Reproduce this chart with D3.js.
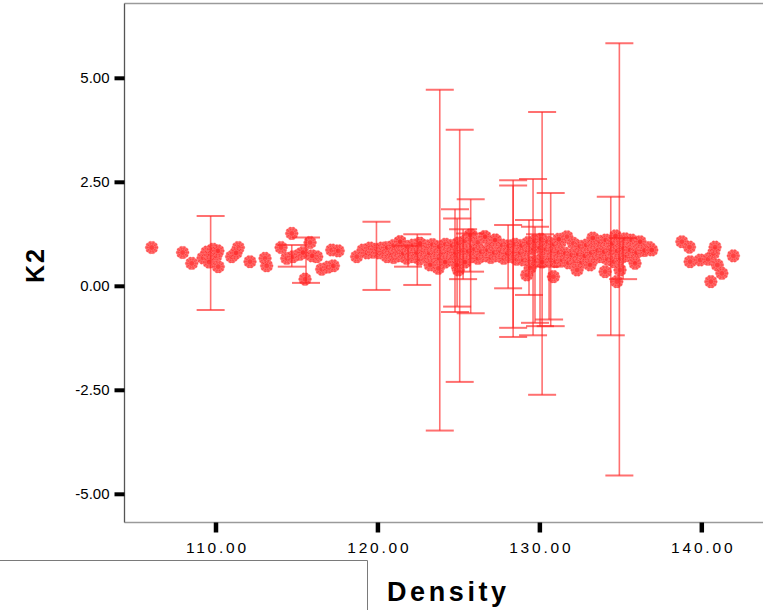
<!DOCTYPE html>
<html>
<head>
<meta charset="utf-8">
<script src="https://cdn.jsdelivr.net/npm/d3@7"></script>
<style>
  html, body { margin: 0; padding: 0; background: #fff; }
  svg { display: block; }
</style>
</head>
<body>
<svg id="chart" width="763" height="610"></svg>
<script>
// ---------- DATA ----------
const xTicks = [110, 120, 130, 140];
const xTickLabels = ["110.00", "120.00", "130.00", "140.00"];
const yTicks = [5, 2.5, 0, -2.5, -5];
const yTickLabels = ["5.00", "2.50", "0.00", "-2.50", "-5.00"];
const xTitle = "Density";
const yTitle = "K2";

// Density of each case
const densityLeft = [106.06, 107.97, 108.53, 109.23, 109.47, 109.66, 109.85, 110.03, 109.60, 110.15, 110.17,
  111.00, 111.41, 111.27, 112.13, 113.06, 113.16, 114.05, 114.71, 114.40, 114.79, 115.22, 115.40, 115.84,
  115.53, 116.25, 115.96, 116.56, 116.95, 117.28, 117.18, 117.58, 118.72, 119.11, 119.36, 119.54, 119.73,
  119.91, 120.10, 120.28, 120.47];
const k2Left = [0.92, 0.80, 0.54, 0.67, 0.81, 0.74, 0.88, 0.72, 0.57, 0.84, 0.46,
  0.70, 0.92, 0.79, 0.58, 0.66, 0.48, 0.92, 1.26, 0.66, 0.70, 0.76, 0.80, 1.04,
  0.16, 0.70, 0.72, 0.40, 0.45, 0.48, 0.86, 0.84, 0.70, 0.86, 0.79, 0.91, 0.81,
  0.88, 0.79, 0.91, 0.84];

const densityBandUpper = [120.6, 121.0, 121.4, 121.8, 122.2, 122.6, 123.0, 123.4, 123.8, 124.2, 124.6, 125.0,
  125.4, 125.8, 126.2, 126.6, 127.0, 127.3, 127.7, 128.1, 128.5, 128.9, 129.3, 129.7, 130.1, 130.5, 130.9,
  131.3, 131.7, 132.1, 132.5, 132.9, 133.3, 133.7, 134.1, 134.5, 134.9, 135.3, 135.7, 136.1, 136.5];
const k2BandUpper = [0.92, 0.97, 1.06, 0.95, 0.98, 1.02, 0.96, 0.99, 0.94, 1.00, 0.97, 1.03,
  1.08, 1.22, 1.05, 1.18, 1.02, 1.10, 0.98, 0.96, 1.00, 0.97, 1.04, 1.08, 1.12, 1.06, 1.00,
  1.05, 1.18, 1.02, 0.95, 0.98, 1.04, 1.07, 1.10, 1.02, 1.12, 1.13, 1.10, 1.02, 0.85];

const densityBandMid = [120.4, 120.8, 121.2, 121.6, 122.0, 122.4, 122.8, 123.2, 123.6, 124.0, 124.4, 124.8,
  125.2, 125.6, 126.0, 126.4, 126.8, 127.2, 127.6, 128.0, 128.4, 128.8, 129.2, 129.6, 130.0, 130.4, 130.8,
  131.2, 131.6, 132.0, 132.4, 132.8, 133.2, 133.6, 134.0, 134.4, 134.8, 135.2, 135.6, 136.0, 136.4, 136.8];
const k2BandMid = [0.82, 0.80, 0.85, 0.78, 0.83, 0.80, 0.86, 0.79, 0.84, 0.81, 0.86, 0.80,
  0.85, 0.83, 0.88, 0.82, 0.86, 0.80, 0.84, 0.78, 0.82, 0.80, 0.86, 0.90, 0.92, 0.88, 0.84,
  0.80, 0.78, 0.74, 0.76, 0.72, 0.80, 0.85, 0.82, 0.88, 0.84, 0.90, 0.86, 0.80, 0.86, 0.92];

const densityBandLower = [120.6, 121.0, 121.4, 121.8, 122.2, 122.6, 123.0, 123.4, 123.8, 124.2, 124.6, 125.0,
  125.4, 125.8, 126.2, 126.6, 127.0, 127.4, 127.8, 128.2, 128.6, 129.0, 129.4, 129.8, 130.2, 130.6, 131.0,
  131.4, 131.8, 132.2, 132.6, 133.0, 133.4, 133.8, 134.2, 134.6, 135.0, 135.4, 135.8];
const k2BandLower = [0.70, 0.68, 0.72, 0.66, 0.70, 0.64, 0.70, 0.62, 0.66, 0.60, 0.68, 0.64,
  0.58, 0.70, 0.66, 0.72, 0.68, 0.72, 0.66, 0.70, 0.64, 0.62, 0.58, 0.60, 0.66, 0.62, 0.58,
  0.62, 0.55, 0.60, 0.56, 0.62, 0.66, 0.70, 0.64, 0.58, 0.66, 0.72, 0.68];

const densityOutliers = [123.76, 125.00, 124.90, 124.18, 129.22, 130.87, 134.06, 134.78, 134.98, 135.91,
  136.94, 136.22, 129.43, 130.17, 132.33, 133.13, 123.25, 125.41, 121.40, 122.63, 125.72, 126.65, 127.26,
  131.20, 133.30, 134.70];
const k2Outliers = [0.42, 0.38, 0.50, 0.57, 0.26, 0.22, 0.34, 0.10, 0.38, 0.54,
  0.86, 1.06, 0.43, 0.57, 0.38, 0.50, 0.50, 0.57, 1.06, 1.02, 1.22, 1.18, 1.10,
  1.12, 1.15, 1.20];

const densityRight = [138.80, 139.27, 139.31, 139.93, 140.42, 140.75, 140.85, 140.99, 141.27, 140.59, 141.98];
const k2Right = [1.06, 0.93, 0.58, 0.62, 0.64, 0.78, 0.93, 0.50, 0.30, 0.10, 0.72];

// Error bars: density, lower, upper
const barDensity = [109.70, 114.71, 115.59, 119.94, 122.46, 121.89, 123.85, 124.79, 124.92, 125.08, 125.76,
  125.29, 125.72, 128.07, 128.38, 128.38, 129.61, 130.17, 130.70, 129.36, 129.73, 130.04, 130.60, 134.41,
  134.94, 135.17];
const barLower = [-0.58, 0.46, 0.07, -0.10, 0.02, 0.46, -3.48, -0.63, -0.50, -2.31, -0.66,
  0.16, 0.34, -0.06, -1.23, -1.01, -1.19, -2.62, -0.97, -0.22, -0.89, -0.97, -0.81, -1.19,
  -4.56, 0.16];
const barUpper = [1.68, 0.98, 1.16, 1.54, 1.24, 0.96, 4.71, 1.84, 1.62, 3.75, 2.08,
  1.36, 1.26, 1.46, 2.54, 2.41, 2.57, 4.18, 2.23, 1.58, 1.42, 1.24, 0.46, 2.14,
  5.83, 1.15];

// ---------- BUILD ----------
const points = [];
function addPts(xs, ys) { xs.forEach((d, i) => points.push({ x: d, y: ys[i] })); }
addPts(densityLeft, k2Left);
addPts(densityBandLower, k2BandLower);
addPts(densityBandMid, k2BandMid);
addPts(densityBandUpper, k2BandUpper);
addPts(densityOutliers, k2Outliers);
addPts(densityRight, k2Right);
const bars = barDensity.map((d, i) => ({ x: d, lo: barLower[i], hi: barUpper[i] }));

const svg = d3.select("#chart");
const frame = { left: 124.5, top: 3.5, right: 770, bottom: 522.5 };

const x = d3.scaleLinear().domain([110, 140]).range([215.5, 701.3]);
const y = d3.scaleLinear().domain([-5, 5]).range([493.8, 77.8]);

// frame
svg.append("line").attr("x1", frame.left).attr("x2", frame.right).attr("y1", frame.top).attr("y2", frame.top)
  .attr("stroke", "#9a9a9a").attr("stroke-width", 1.5);
svg.append("line").attr("x1", frame.left).attr("x2", frame.right).attr("y1", frame.bottom).attr("y2", frame.bottom)
  .attr("stroke", "#9a9a9a").attr("stroke-width", 1.5);
svg.append("line").attr("x1", frame.left).attr("x2", frame.left).attr("y1", frame.top).attr("y2", frame.bottom)
  .attr("stroke", "#555").attr("stroke-width", 1.3);

// lower-left box
svg.append("path").attr("d", "M0,560.5 H367.5 V612").attr("fill", "none").attr("stroke", "#7a7a7a").attr("stroke-width", 1);

// axes
const yAxis = d3.axisLeft(y).tickValues(yTicks).tickSize(10).tickPadding(5)
  .tickFormat((d, i) => yTickLabels[i]);
const gy = svg.append("g").attr("transform", `translate(${frame.left},0)`).call(yAxis);
gy.select(".domain").remove();
gy.selectAll(".tick line").attr("stroke", "#000").attr("stroke-width", 4);
gy.selectAll(".tick text").attr("font-family", "Liberation Sans, Arial, sans-serif")
  .attr("font-size", 15).attr("fill", "#000");

const xAxis = d3.axisBottom(x).tickValues(xTicks).tickSize(10).tickPadding(9)
  .tickFormat((d, i) => xTickLabels[i]);
const gx = svg.append("g").attr("transform", `translate(0,${frame.bottom})`).call(xAxis);
gx.select(".domain").remove();
gx.selectAll(".tick line").attr("stroke", "#000").attr("stroke-width", 4.5);
gx.selectAll(".tick text").attr("font-family", "Liberation Sans, Arial, sans-serif")
  .attr("font-size", 15.5).attr("fill", "#000").attr("letter-spacing", "2.8px").attr("dx", "1.4px");

// titles
svg.append("text").attr("x", 387).attr("y", 601).text(xTitle)
  .attr("font-family", "Liberation Sans, Arial, sans-serif").attr("font-weight", "bold")
  .attr("font-size", 27).attr("letter-spacing", "3.6px").attr("fill", "#000");
svg.append("text").attr("transform", "translate(44,265) rotate(-90)").attr("text-anchor", "middle")
  .text(yTitle).attr("font-family", "Liberation Sans, Arial, sans-serif").attr("font-weight", "bold")
  .attr("font-size", 25).attr("letter-spacing", "2px").attr("fill", "#000");

// clip
svg.append("clipPath").attr("id", "plotclip").append("rect")
  .attr("x", frame.left + 1).attr("y", frame.top + 1)
  .attr("width", frame.right - frame.left).attr("height", frame.bottom - frame.top - 2);
const plot = svg.append("g").attr("clip-path", "url(#plotclip)");

// markers: scalloped burst
const burst = {
  draw(ctx, size) {
    const r = Math.sqrt(size / Math.PI);
    const n = 10;
    const rc = r * 0.78, rb = r * 0.3;
    ctx.moveTo(rc, 0);
    ctx.arc(0, 0, rc, 0, 2 * Math.PI);
    for (let i = 0; i < n; i++) {
      const a = (i / n) * 2 * Math.PI;
      const cx = Math.cos(a) * (r - rb), cy = Math.sin(a) * (r - rb);
      ctx.moveTo(cx + rb, cy);
      ctx.arc(cx, cy, rb, 0, 2 * Math.PI);
    }
  }
};
const sym = d3.symbol().type(burst).size(Math.PI * 6.5 * 6.5);

plot.append("g").selectAll("path").data(points).join("path")
  .attr("d", sym)
  .attr("transform", d => `translate(${x(d.x)},${y(d.y)})`)
  .attr("fill", "#ff3030").attr("fill-opacity", 0.92)
  .attr("stroke", "#ff8080").attr("stroke-opacity", 0.6).attr("stroke-width", 0.8);

// error bars
const capHalf = 14;
const gb = plot.append("g").attr("stroke", "#ff2424").attr("stroke-opacity", 0.65).attr("fill", "none");
const bg = gb.selectAll("g").data(bars).join("g");
bg.append("line").attr("x1", d => x(d.x)).attr("x2", d => x(d.x))
  .attr("y1", d => y(d.hi)).attr("y2", d => y(d.lo)).attr("stroke-width", 1.6);
bg.append("line").attr("x1", d => x(d.x) - capHalf).attr("x2", d => x(d.x) + capHalf)
  .attr("y1", d => y(d.hi)).attr("y2", d => y(d.hi)).attr("stroke-width", 2);
bg.append("line").attr("x1", d => x(d.x) - capHalf).attr("x2", d => x(d.x) + capHalf)
  .attr("y1", d => y(d.lo)).attr("y2", d => y(d.lo)).attr("stroke-width", 2);
</script>
</body>
</html>
